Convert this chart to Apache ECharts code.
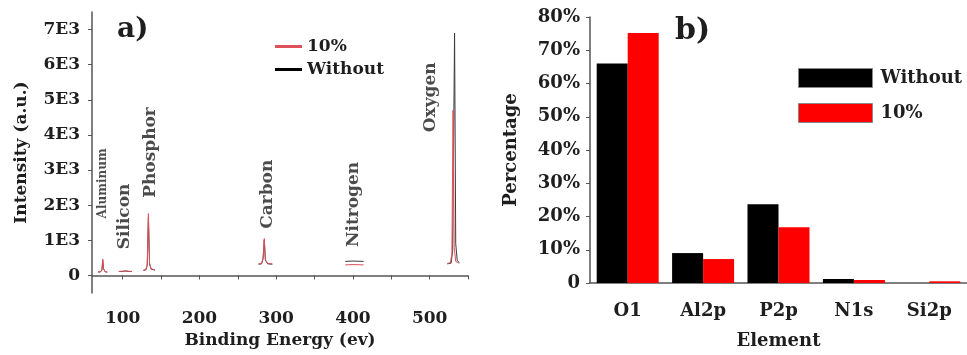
<!DOCTYPE html>
<html>
<head>
<meta charset="utf-8">
<script src="https://cdn.jsdelivr.net/npm/echarts@6/dist/echarts.min.js"></script>
<style>
  html, body { margin: 0; padding: 0; background: #fff; }
  #chart { width: 967px; height: 355px; }
</style>
</head>
<body>
<div id="chart"></div>
<script>
// ---- (a) XPS survey: narrow scan windows, [binding energy eV, counts] ----
const tenAl = [[68,100],[71,105],[73,170],[74,470],[75,200],[77,110],[80,100]];
const tenSi = [[95,115],[100,120],[102,140],[104,130],[108,118],[112,115]];
const tenP  = [[127,150],[130,160],[132,300],[133.5,1760],[135,350],[137,190],[142,160]];
const tenC  = [[277,330],[281,340],[283,500],[284.5,1050],[286,450],[289,340],[295,330]];
const tenN  = [[390,300],[400,310],[414,300]];
const tenO  = [[523,340],[527,360],[529,600],[530.5,4700],[532,800],[534,400],[538,350]];

const woAl = [[68,95],[71,100],[73,160],[74,420],[75,190],[77,105],[80,95]];
const woSi = [[95,110],[100,115],[102,130],[104,125],[108,112],[112,110]];
const woP  = [[127,145],[130,155],[132,280],[133.5,1650],[135,330],[137,180],[142,150]];
const woC  = [[277,320],[281,330],[283,480],[284.5,1000],[286,430],[289,330],[295,320]];
const woN  = [[390,400],[400,410],[414,400]];
const woO  = [[523,330],[528,350],[530,700],[532.5,6900],[534,900],[536,420],[539,360]];

const peakNames  = ['Aluminum', 'Silicon', 'Phosphor', 'Carbon', 'Nitrogen', 'Oxygen'];
const peakAnchor = [[74.4,2620],[103,1680],[135.7,3500],[288.5,2310],[400.7,2020],[501,5070]];

const xTicksA  = [100, 200, 300, 400, 500];
const xMinorA  = [100, 150, 200, 250, 300, 350, 400, 450, 500, 550];
const yTicksA  = [0, 1000, 2000, 3000, 4000, 5000, 6000, 7000];

// ---- (b) elemental composition (%) ----
const elements   = ['O1', 'Al2p', 'P2p', 'N1s', 'Si2p'];
const withoutPct = [66, 9, 23.7, 1.2, 0];
const tenPct     = [75.2, 7.2, 16.8, 0.9, 0.5];

const FONT = 'DejaVu Serif';
const INK = '#1e1e1e';
const AXIS = '#555';
const RED = '#ff0000';
const BLACK = '#000';
const LINE_RED = '#e0505a';
const LINE_BLACK = '#3a3a3a';

const txt = (size) => ({ fontFamily: FONT, fontWeight: 'bold', fontSize: size, color: INK });

function lineSeries(name, data, color, z) {
  return {
    type: 'line', name, data, xAxisIndex: 0, yAxisIndex: 0,
    showSymbol: false, symbol: 'none', z,
    lineStyle: { width: 1, color }, itemStyle: { color },
    animation: false
  };
}

const spectra = [
  ...[woAl, woSi, woP, woC, woN, woO].map(d => lineSeries('Without', d, LINE_BLACK, 2)),
  ...[tenAl, tenSi, tenP, tenC, tenN, tenO].map(d => lineSeries('10%', d, LINE_RED, 3))
];

const chart = echarts.init(document.getElementById('chart'), null, { renderer: 'canvas' });

chart.setOption({
  backgroundColor: '#fff',
  animation: false,
  grid: [
    { left: 92, right: 499, top: 12, bottom: 62 },
    { left: 590, right: -5, top: 17, bottom: 71 }
  ],
  xAxis: [
    {
      type: 'value', gridIndex: 0, min: 60, max: 550,
      name: 'Binding Energy (ev)', nameLocation: 'middle', nameGap: 37,
      nameTextStyle: txt(17),
      axisLine: { lineStyle: { color: AXIS, width: 1.5 } },
      axisTick: { customValues: xMinorA, length: 4, lineStyle: { color: AXIS } },
      axisLabel: { customValues: xTicksA, margin: 17, ...txt(17) },
      splitLine: { show: false }
    },
    {
      type: 'category', gridIndex: 1, data: elements,
      name: 'Element', nameLocation: 'middle', nameGap: 49,
      nameTextStyle: txt(18),
      axisLine: { lineStyle: { color: AXIS, width: 1.5 } },
      axisTick: { length: 3, lineStyle: { color: AXIS } },
      axisLabel: { margin: 19, ...txt(18) }
    }
  ],
  yAxis: [
    {
      type: 'value', gridIndex: 0, min: -500, max: 7500,
      name: 'Intensity (a.u.)', nameLocation: 'middle', nameGap: 62, nameRotate: 90,
      nameTextStyle: txt(17),
      axisLine: { show: true, lineStyle: { color: AXIS, width: 1.5 } },
      axisTick: { show: true, customValues: yTicksA, length: 4, lineStyle: { color: AXIS } },
      axisLabel: {
        customValues: yTicksA, margin: 12, ...txt(17),
        formatter: v => v === 0 ? '0' : (v / 1000) + 'E3'
      },
      splitLine: { show: false }
    },
    {
      type: 'value', gridIndex: 1, min: 0, max: 80, interval: 10,
      name: 'Percentage', nameLocation: 'middle', nameGap: 70, nameRotate: 90,
      nameTextStyle: txt(18),
      axisLine: { show: true, lineStyle: { color: AXIS, width: 1.5 } },
      axisTick: { show: true, length: 4, lineStyle: { color: AXIS } },
      axisLabel: { margin: 10, ...txt(18), formatter: v => v === 0 ? '0' : v + '%' },
      splitLine: { show: false }
    }
  ],
  legend: [
    {
      orient: 'vertical', left: 270, top: 33, itemGap: 6,
      icon: 'rect', itemWidth: 27, itemHeight: 3,
      data: [
        { name: '10%', itemStyle: { color: LINE_RED } },
        { name: 'Without', itemStyle: { color: BLACK } }
      ],
      textStyle: { ...txt(17), padding: [0, 0, 0, 0] },
      selectedMode: false
    },
    {
      orient: 'vertical', left: 793, top: 63, itemGap: 15,
      icon: 'rect', itemWidth: 74, itemHeight: 19,
      data: [
        { name: 'Without', itemStyle: { color: BLACK, borderColor: '#888', borderWidth: 1 } },
        { name: '10%', itemStyle: { color: RED, borderColor: '#888', borderWidth: 1 } }
      ],
      textStyle: { ...txt(18), padding: [0, 0, 0, 3] },
      selectedMode: false
    }
  ],
  graphic: [
    { type: 'text', left: 117, top: 16, style: { text: 'a)', font: 'bold 28px "DejaVu Serif"', fill: INK } },
    { type: 'text', left: 675, top: 16, style: { text: 'b)', font: 'bold 30px "DejaVu Serif"', fill: INK } }
  ],
  series: [
    ...spectra,
    {
      type: 'scatter', xAxisIndex: 0, yAxisIndex: 0, symbolSize: 0, silent: true, z: 5,
      data: peakNames.map((n, i) => ({
        name: n, value: peakAnchor[i],
        label: { fontSize: n === 'Aluminum' ? 12 : 17 }
      })),
      label: {
        show: true, position: 'inside', rotate: 90,
        align: 'center', verticalAlign: 'middle',
        formatter: p => p.name,
        fontFamily: FONT, fontWeight: 'bold', color: INK
      }
    },
    {
      type: 'bar', name: 'Without', xAxisIndex: 1, yAxisIndex: 1,
      data: withoutPct, barWidth: 31, barGap: '0%',
      itemStyle: { color: BLACK }
    },
    {
      type: 'bar', name: '10%', xAxisIndex: 1, yAxisIndex: 1,
      data: tenPct, barWidth: 31, barGap: '0%',
      itemStyle: { color: RED }
    }
  ]
});
</script>
</body>
</html>
